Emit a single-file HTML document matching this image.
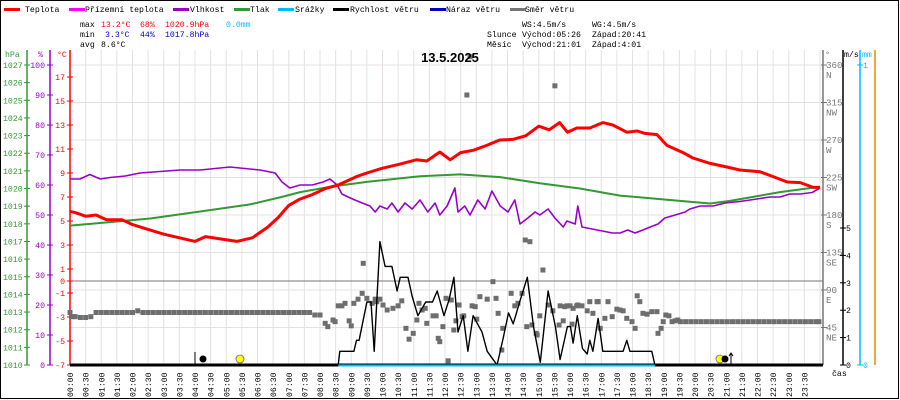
<!DOCTYPE html>
<html><head><meta charset="utf-8">
<style>
html,body{margin:0;padding:0;background:#fff;}
svg{display:block;font-family:"Liberation Mono",monospace;}
</style></head>
<body>
<svg id="chart" width="900" height="400" viewBox="0 0 900 400" xmlns="http://www.w3.org/2000/svg">
<rect x="0.5" y="0.5" width="898" height="398" fill="#fff" stroke="#000" stroke-width="1"/>
<g id="grid"></g>
<g id="axes"></g>
<g id="series"></g>
<g font-size="8.2">
 <g><rect x="4" y="8" width="16" height="3" fill="#f00"/><text x="25" y="12">Teplota</text></g>
 <g><rect x="69" y="8" width="16" height="3" fill="#f0f"/><text x="85" y="12">Přízemní teplota</text></g>
 <g><rect x="173" y="8" width="16" height="3" fill="#90c"/><text x="190" y="12">Vlhkost</text></g>
 <g><rect x="234" y="8" width="16" height="3" fill="#393"/><text x="250" y="12">Tlak</text></g>
 <g><rect x="278" y="8" width="16" height="3" fill="#0bf"/><text x="295" y="12">Srážky</text></g>
 <g><rect x="333" y="8" width="16" height="3" fill="#000"/><text x="350" y="12">Rychlost větru</text></g>
 <g><rect x="430" y="8" width="16" height="3" fill="#00c"/><text x="446" y="12">Náraz větru</text></g>
 <g><rect x="510" y="8" width="16" height="3" fill="#777"/><text x="525" y="12">Směr větru</text></g>
</g>
<g font-size="8.2">
 <text x="80" y="27">max</text><text x="101" y="27" fill="#f00">13.2°C</text><text x="140" y="27" fill="#f00">68%</text><text x="165" y="27" fill="#f00">1020.9hPa</text><text x="226" y="27" fill="#0bf">0.0mm</text>
 <text x="80" y="37">min</text><text x="105" y="37" fill="#00c">3.3°C</text><text x="140" y="37" fill="#00c">44%</text><text x="165" y="37" fill="#00c">1017.8hPa</text>
 <text x="80" y="47">avg</text><text x="101" y="47">8.6°C</text>
 <text x="522" y="27">WS:4.5m/s</text><text x="592" y="27">WG:4.5m/s</text>
 <text x="487" y="37">Slunce</text><text x="522" y="37">Východ:05:26</text><text x="592" y="37">Západ:20:41</text>
 <text x="487" y="47">Měsíc</text><text x="522" y="47">Východ:21:01</text><text x="592" y="47">Západ:4:01</text>
</g>
<text x="450" y="62" text-anchor="middle" font-size="13" font-weight="bold" font-family="Liberation Sans, sans-serif">13.5.2025</text>
</svg>
<script>
// ---- data ----
const tempTimes=[0,10,30,50,70,100,120,150,180,210,240,260,290,320,350,380,400,420,440,465,490,515,550,570,600,630,665,685,710,730,750,775,800,825,850,875,900,920,940,955,973,998,1023,1042,1069,1089,1104,1127,1146,1177,1196,1229,1261,1286,1325,1350,1377,1402,1427,1440];
const tempValues=[5.8,5.7,5.4,5.5,5.1,5.1,4.7,4.3,3.9,3.6,3.3,3.7,3.5,3.3,3.6,4.5,5.3,6.3,6.8,7.2,7.7,8.0,8.7,9.0,9.4,9.7,10.1,10.0,10.75,10.1,10.7,10.9,11.3,11.75,11.8,12.1,12.9,12.6,13.2,12.4,12.75,12.75,13.2,13.0,12.4,12.5,12.3,12.2,11.3,10.7,10.25,9.8,9.5,9.25,9.1,8.7,8.25,8.2,7.8,7.8];
const humTimes=[0,19,38,58,77,106,134,173,211,250,307,365,394,407,422,442,465,486,499,513,522,534,547,561,576,586,595,609,618,630,643,657,672,687,701,710,724,739,745,758,768,783,797,810,826,841,854,864,879,893,902,918,931,947,954,970,975,983,998,1012,1027,1041,1056,1071,1085,1100,1114,1129,1142,1162,1181,1190,1210,1235,1258,1286,1306,1325,1344,1363,1382,1402,1425,1440];
const humValues=[62,62,63.5,62,62.5,63,64,64.5,65,65,66,65,64,61,59,60,60,61,62,60,57,56,55,54,53,51,53,52,54,51,54,52,55,51,54,50,53,59,51,53,50,55,52,58,53,51,55,47,49,51,50,52,49,46,48,47,53,46,45.5,45,44.5,44,44,45,44,45,46,47,49,50,51,52,53,53,54,54.5,55,55.5,56,56,57,57,57.5,59];
const presTimes=[0,77,154,250,346,403,442,499,576,672,749,826,902,979,1056,1133,1171,1229,1267,1306,1363,1440];
const presValues=[1017.9,1018.1,1018.3,1018.7,1019.1,1019.5,1019.8,1020.1,1020.4,1020.7,1020.8,1020.65,1020.3,1020.0,1019.6,1019.4,1019.3,1019.15,1019.3,1019.5,1019.8,1020.1];
const windTimes=[0,515,518,545,550,555,570,578,584,595,605,618,628,634,649,657,668,683,696,705,718,728,737,745,755,764,774,791,801,820,832,842,851,865,878,890,903,918,932,941,955,961,966,974,984,993,998,1004,1014,1023,1062,1069,1075,1117,1123,1440];
const windValues=[0,0,0.5,0.5,0.9,0.9,2.3,2.3,0.5,4.5,3.6,3.6,2.7,3.2,3.2,2.5,1.8,2.3,2.3,2.7,1.8,2.4,3.2,1.2,1.8,0.5,1.8,1.2,0.5,0,1.0,1.9,1.5,2.4,3.2,1.4,0.1,2.7,1.4,0.2,1.4,1.4,0.8,1.8,0.6,0.4,0.9,0.5,1.7,0.5,0.5,0.9,0.5,0.5,0,0];
const dirTimes=[0,5,10,20,30,40,50,60,70,80,90,100,110,120,130,140,150,160,170,180,190,200,210,220,230,240,250,260,270,280,290,300,310,320,330,340,350,360,370,380,390,400,410,420,430,440,450,460,470,480,
490,495,505,509,515,522,528,536,540,545,553,561,563,570,580,586,589,595,601,609,620,630,637,645,651,659,666,670,676,682,685,697,703,707,710,716,722,726,732,737,741,747,753,756,762,768,772,778,781,787,801,812,818,822,829,831,847,854,860,868,874,877,883,887,895,897,902,908,918,927,931,939,941,947,950,954,960,964,966,973,975,983,993,998,1004,1012,1014,1018,1027,1033,1041,1050,1056,1062,1069,1079,1085,1089,1094,1100,1108,1117,1127,1129,1135,1139,1144,1150,1156,1162,1167,
1172,1182,1192,1202,1212,1222,1232,1242,1252,1262,1272,1282,1292,1302,1312,1322,1332,1342,1352,1362,1372,1382,1392,1402,1412,1422,1432,1438];
const dirValues=[63,58,58,57,57,58,63,63,63,63,63,63,63,63,65,63,63,63,63,63,63,63,63,63,63,63,63,63,63,63,63,63,63,63,63,63,63,63,63,63,63,63,63,63,63,63,63,63,60,60,
50,46,54,52,71,71,74,53,47,74,79,86,122,80,74,79,76,79,72,66,68,71,77,44,31,38,54,74,66,68,50,59,59,32,28,46,80,5,78,42,53,72,58,59,324,370,71,70,55,82,79,100,80,62,18,44,86,71,74,86,150,46,148,48,38,36,59,114,72,65,335,48,71,53,70,71,71,49,68,71,72,71,65,76,62,76,76,44,56,76,58,67,66,65,56,52,44,83,76,62,61,64,64,38,44,52,60,59,52,53,54,
52,52,52,52,52,52,52,52,52,52,52,52,52,52,52,52,52,52,52,52,52,52,52,52,52,52,52,52];
const tempTicks=[17,15,13,11,9,7,5,3,1,0,-1,-3,-5,-7];
const humTicks=[100,90,80,70,60,50,40,30,20,10,0];
const presTicks=[1027,1026,1025,1024,1023,1022,1021,1020,1019,1018,1017,1016,1015,1014,1013,1012,1011,1010];
const dirTicks=[360,315,270,225,180,135,90,45];
const dirNames=["N","NW","W","SW","S","SE","E","NE"];
const windTicks=[5,4,3,2,1,0];
const rainTicks=[1,0];

// ---- scales ----
const X0=70,X1=820,YB=365,YT=65;
const xS=m=>X0+(X1-X0)*m/1440;
const tY=v=>281-12*v;
const hY=v=>YB-(YB-YT)*v/100;
const pY=v=>YB-(YB-YT)*(v-1010)/17;
const dY=v=>YB-(YB-YT)*v/360;
const wY=v=>YB-27.4*v;
const rY=v=>YB-(YB-YT)*v;
const FS=8.2;
const NS="http://www.w3.org/2000/svg";
function mk(tag,attrs,parent){const e=document.createElementNS(NS,tag);for(const k in attrs)e.setAttribute(k,attrs[k]);parent.appendChild(e);return e;}
const grid=document.getElementById('grid'),axes=document.getElementById('axes'),ser=document.getElementById('series');

// grid
for(let i=0;i<=48;i++){const x=xS(i*30);
 const l=mk('line',{x1:x,y1:50,x2:x,y2:YB,stroke:'#e6e0e0','stroke-width':1},grid);
 
 
 const h=String(Math.floor(i/2)).padStart(2,'0')+':'+(i%2?'30':'00');
 if(i<48){const t=mk('text',{x:0,y:0,'font-size':FS,transform:`translate(${x+3},397) rotate(-90)`},axes);t.textContent=h;
 
 }
}
dirTicks.forEach((d,i)=>{const y=dY(d);
 const l=mk('line',{x1:X0,y1:y,x2:823,y2:y,stroke:'#e6e0e0','stroke-width':1},grid);
 
 
 mk('line',{x1:821,y1:y,x2:827,y2:y,stroke:'#777'},axes);
 const t=mk('text',{x:826,y:y+3,'font-size':FS+1,fill:'#777'},axes);t.textContent=d;
 
 
 const n=mk('text',{x:826,y:y+13,'font-size':FS+1,fill:'#777'},axes);n.textContent=dirNames[i];
 
 
});
const zl=mk('line',{x1:X0,y1:tY(0),x2:823,y2:tY(0),stroke:'#777','stroke-width':1},grid);



// axes lines
[[27,'#393','pressure-axis'],[50,'#90c','humidity-axis'],[70,'#f00','temperature-axis'],[823,'#777','direction-axis'],[843,'#000','wind-axis'],[860,'#0bf','rain-axis'],[875,'#e80','extra-axis']].forEach(a=>{
 const l=mk('line',{x1:a[0],y1:50,x2:a[0],y2:YB,stroke:a[1],'stroke-width':1.5},axes);
 
 
});
const units=[[5,'hPa','#393'],[38,'%','#90c'],[57,'°C','#f00'],[825,'°','#777'],[844,'m/s','#000'],[862,'mm','#0bf']];
units.forEach(u=>{const t=mk('text',{x:u[0],y:57,'font-size':FS,fill:u[2]},axes);t.textContent=u[1];
 
 });
tempTicks.forEach(v=>{const y=tY(v);mk('line',{x1:67,y1:y,x2:73,y2:y,stroke:'#f00'},axes);
 const t=mk('text',{x:65,y:y+3,'font-size':FS,fill:'#f00','text-anchor':'end'},axes);t.textContent=v;
 
 });
humTicks.forEach(v=>{const y=hY(v);mk('line',{x1:47,y1:y,x2:53,y2:y,stroke:'#90c'},axes);
 const t=mk('text',{x:45,y:y+3,'font-size':FS,fill:'#90c','text-anchor':'end'},axes);t.textContent=v;
 
 });
presTicks.forEach(v=>{const y=pY(v);mk('line',{x1:24,y1:y,x2:30,y2:y,stroke:'#393'},axes);
 const t=mk('text',{x:3,y:y+3,'font-size':FS,fill:'#393'},axes);t.textContent=v;
 
 });
windTicks.forEach(v=>{const y=wY(v);mk('line',{x1:840,y1:y,x2:846,y2:y,stroke:'#000'},axes);
 const t=mk('text',{x:846,y:y+3,'font-size':FS,fill:'#000'},axes);t.textContent=v;
 
 });
rainTicks.forEach(v=>{const y=rY(v);mk('line',{x1:857,y1:y,x2:863,y2:y,stroke:'#0bf'},axes);
 const t=mk('text',{x:863,y:y+3,'font-size':FS,fill:'#0bf'},axes);t.textContent=v;
 
 });
const cas=mk('text',{x:832,y:376,'font-size':FS},axes);cas.textContent='čas';



// series
function line(ts,vs,sc,color,w,name){
 const d=ts.map((t,i)=>(i?'L':'M')+xS(t).toFixed(1)+','+sc(vs[i]).toFixed(1)).join('');
 const p=mk('path',{d:d,fill:'none',stroke:color,'stroke-width':w,'stroke-linejoin':'round'},ser);
 
 
}
dirTimes.forEach((t,i)=>{const r=mk('rect',{x:xS(t)-2.5,y:dY(dirValues[i])-2.5,width:5,height:5,fill:'#6e6e6e'},ser);
 
 });
line(presTimes,presValues,pY,'#393',2,'pressure-line');
line(humTimes,humValues,hY,'#90c',1.6,'humidity-line');
line(tempTimes,tempValues,tY,'#f00',3,'temperature-line');
line(windTimes,windValues,wY,'#000',1.4,'wind-speed-line');
const base=mk('line',{x1:X0,y1:YB,x2:823,y2:YB,stroke:'#000','stroke-width':3},ser);


const rain=mk('line',{x1:xS(515),y1:YB+0.5,x2:xS(1123),y2:YB+0.5,stroke:'#0bf','stroke-width':2},ser);


// sun & moon markers
const ms=mk('line',{x1:195,y1:352,x2:195,y2:364,stroke:'#000'},ser);


const m1=mk('circle',{cx:203,cy:359,r:3.5,fill:'#000'},ser);


const s1=mk('circle',{cx:240,cy:359,r:4,fill:'#ff0',stroke:'#666','stroke-width':0.8},ser);


const s2=mk('circle',{cx:720,cy:359,r:4,fill:'#ff0',stroke:'#666','stroke-width':0.8},ser);


const m2=mk('circle',{cx:725,cy:359,r:3.5,fill:'#000'},ser);


const ar=mk('path',{d:'M731,364V354M729,356L731,353L733,356',stroke:'#000',fill:'none','stroke-width':1},ser);


</script>
</body></html>
